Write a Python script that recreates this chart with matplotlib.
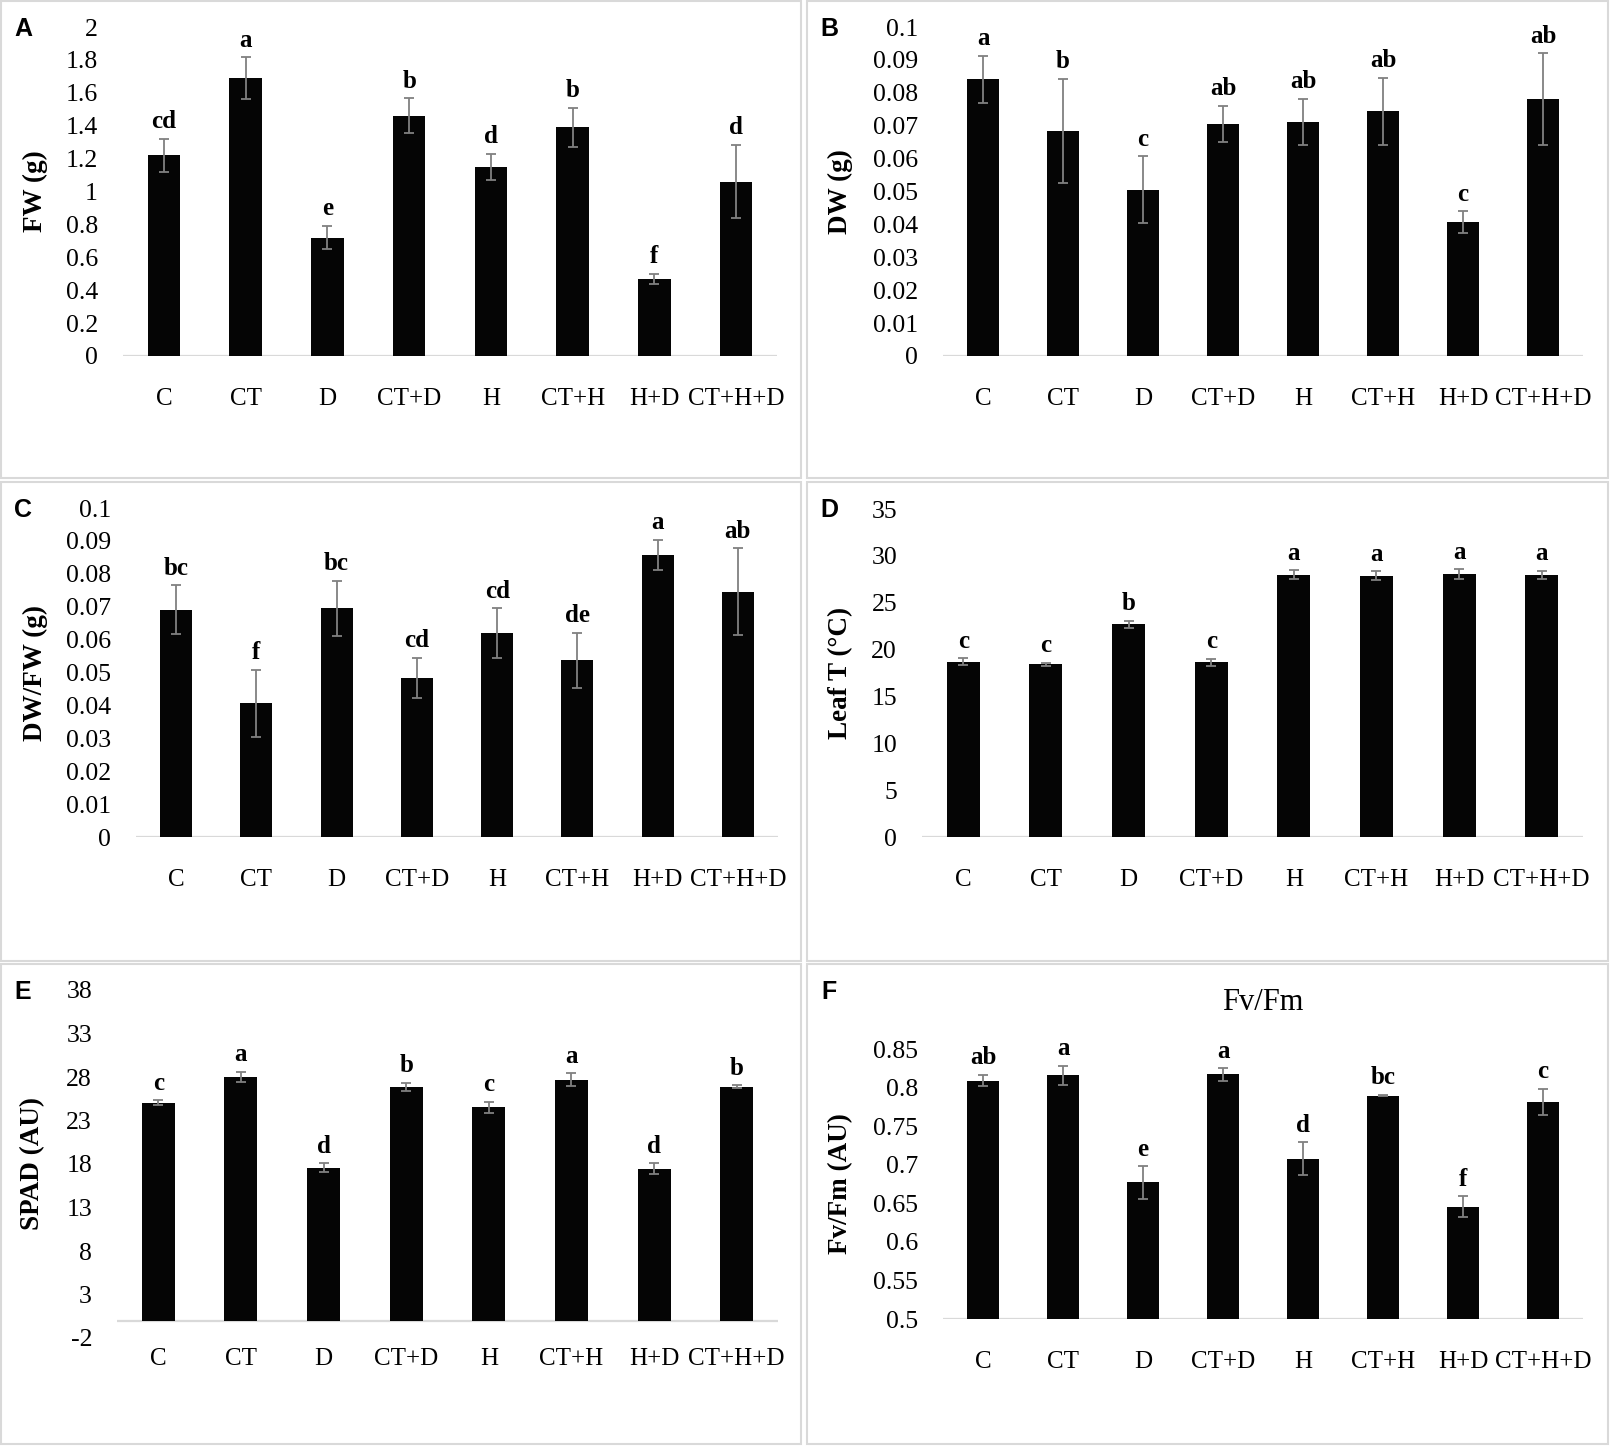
import numpy as np
import matplotlib.pyplot as plt
from matplotlib.patches import Rectangle

plt.rcParams['font.family'] = ['Liberation Serif', 'DejaVu Serif']

W, H = 1610, 1446

groups = ["C", "CT", "D", "CT+D", "H", "CT+H", "H+D", "CT+H+D"]

fw = [1.22, 1.69, 0.72, 1.46, 1.15, 1.39, 0.47, 1.06]
fw_err = [0.10, 0.127, 0.072, 0.107, 0.078, 0.12, 0.03, 0.224]
fw_sig = ["cd", "a", "e", "b", "d", "b", "f", "d"]

dw = [0.0841, 0.0684, 0.0506, 0.0705, 0.0711, 0.0744, 0.0407, 0.0780]
dw_err = [0.0072, 0.0158, 0.0101, 0.0055, 0.0070, 0.0102, 0.0033, 0.0140]
dw_sig = ["a", "b", "c", "ab", "ab", "ab", "c", "ab"]

ratio = [0.0691, 0.0406, 0.0695, 0.0484, 0.0619, 0.0537, 0.0858, 0.0745]
ratio_err = [0.0074, 0.0103, 0.0083, 0.0060, 0.0076, 0.0083, 0.0045, 0.0132]
ratio_sig = ["bc", "f", "bc", "cd", "cd", "de", "a", "ab"]

leaf_t = [18.71, 18.43, 22.70, 18.64, 28.00, 27.89, 28.07, 27.96]
leaf_t_err = [0.35, 0.15, 0.35, 0.40, 0.45, 0.45, 0.50, 0.45]
leaf_t_sig = ["c", "c", "b", "c", "a", "a", "a", "a"]

spad = [25.06, 27.97, 17.59, 26.86, 24.52, 27.70, 17.47, 26.90]
spad_err = [0.25, 0.60, 0.50, 0.45, 0.65, 0.75, 0.60, 0.15]
spad_sig = ["c", "a", "d", "b", "c", "a", "d", "b"]

fvfm = [0.809, 0.816, 0.677, 0.817, 0.708, 0.7895, 0.6456, 0.7813]
fvfm_err = [0.0075, 0.0125, 0.021, 0.008, 0.021, 0.001, 0.0135, 0.017]
fvfm_sig = ["ab", "a", "e", "a", "d", "bc", "f", "c"]

fw_ticks = [0, 0.2, 0.4, 0.6, 0.8, 1, 1.2, 1.4, 1.6, 1.8, 2]
dw_ticks = [0, 0.01, 0.02, 0.03, 0.04, 0.05, 0.06, 0.07, 0.08, 0.09, 0.1]
leaf_ticks = [0, 5, 10, 15, 20, 25, 30, 35]
spad_ticks = [-2, 3, 8, 13, 18, 23, 28, 33, 38]
fvfm_ticks = [0.5, 0.55, 0.6, 0.65, 0.7, 0.75, 0.8, 0.85]

panels = [
    # letter, values, errors, letters, ylabel, ticks, axes px (x0, x1, ytop, ybottom), box px, ylabel x, xpad
    ("A", fw, fw_err, fw_sig, "FW (g)", fw_ticks, (123, 777, 27, 356), (1, 801, 1, 478), 48, 23),
    ("B", dw, dw_err, dw_sig, "DW (g)", dw_ticks, (943, 1583, 27, 356), (807, 1608, 1, 478), 853, 23),
    ("C", ratio, ratio_err, ratio_sig, "DW/FW (g)", dw_ticks, (136, 778, 508, 837), (1, 801, 482, 961), 48, 23),
    ("D", leaf_t, leaf_t_err, leaf_t_sig, "Leaf T (°C)", leaf_ticks, (922, 1583, 509, 837), (807, 1608, 482, 961), 853, 23),
    ("E", spad, spad_err, spad_sig, "SPAD (AU)", spad_ticks, (117, 778, 990, 1338), (1, 801, 964, 1444), 45, 7),
    ("F", fvfm, fvfm_err, fvfm_sig, "Fv/Fm (AU)", fvfm_ticks, (943, 1583, 1049, 1319), (807, 1608, 964, 1444), 853, 23),
]

fig = plt.figure(figsize=(W / 100, H / 100), dpi=100)

for letter, vals, errs, sig, ylab, ticks, rect, box, ylab_x, xpad in panels:
    x0, x1, yt, yb = rect
    ax = fig.add_axes([x0 / W, 1 - yb / H, (x1 - x0) / W, (yb - yt) / H])
    vals = np.array(vals)
    errs = np.array(errs)
    ymin, ymax = ticks[0], ticks[-1]
    base = max(ymin, 0)
    x = np.arange(len(groups))

    ax.bar(x, vals - base, bottom=base, width=0.4, color="#050505", zorder=2)
    ax.errorbar(x, vals, yerr=errs, fmt="none", ecolor="#808080",
                elinewidth=1.3, capsize=3.6, capthick=1.3, zorder=3)
    for xi, v, e, s in zip(x, vals, errs, sig):
        ax.annotate(s, (xi, v + e), xytext=(0, 4), textcoords="offset points",
                    ha="center", va="bottom", fontsize=18, fontweight="bold",
                    annotation_clip=False)
    ax.axhline(base, color="#d9d9d9", lw=1.6, zorder=1)

    ax.set_xlim(-0.5, len(groups) - 0.5)
    ax.set_ylim(ymin, ymax)
    ax.set_yticks(ticks)
    ax.set_yticklabels([f"{round(t, 4):g}" for t in ticks])
    ax.set_xticks(x)
    ax.set_xticklabels(groups)
    ax.tick_params(axis="y", length=0, pad=18, labelsize=18.5)
    ax.tick_params(axis="x", length=0, pad=xpad, labelsize=18)
    for sp in ax.spines.values():
        sp.set_visible(False)

    ax.set_ylabel(ylab, fontsize=19.5, fontweight="bold")
    ax.yaxis.set_label_coords((ylab_x - x0) / (x1 - x0), 0.5)

    bx0, bx1, by0, by1 = box
    fig.add_artist(Rectangle((bx0 / W, 1 - by1 / H), (bx1 - bx0) / W, (by1 - by0) / H,
                             transform=fig.transFigure, fill=False,
                             edgecolor="#d9d9d9", lw=1.5))
    fig.text((bx0 + 22) / W, 1 - (by0 + 28) / H, letter, family="Liberation Sans",
             fontweight="bold", fontsize=18, ha="center", va="center")

    if letter == "F":
        ax.text(0.5, (1002 - yt) / (yt - yb) + 1, "Fv/Fm", transform=ax.transAxes,
                ha="center", va="center", fontsize=22)

fig.savefig("out.png", dpi=100, facecolor="white")
